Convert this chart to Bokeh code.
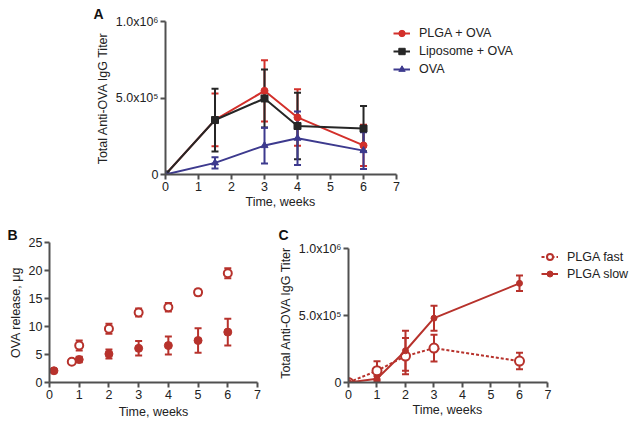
from bokeh.plotting import figure
from bokeh.layouts import column, row
from bokeh.models import ColumnDataSource, Whisker, TeeHead, FixedTicker, Title
from bokeh.embed import file_html
from bokeh.resources import INLINE

FONT = "Liberation Sans"
AX = "#505050"
TXT = "#222222"
RED_A = "#d3302b"
BLACK_A = "#262626"
BLUE_A = "#3d3a8e"
RED = "#b7322c"

# ---------------- data ----------------
# Panel A: total anti-OVA IgG titer
weeks_a = [0, 1.5, 3, 4, 6]
plga_ova = [0, 357000, 547000, 373000, 190000]
plga_ova_err = [0, 173000, 200000, 185000, 135000]
lipo_ova = [0, 356000, 497000, 317000, 300000]
lipo_ova_err = [0, 205000, 190000, 217000, 148000]
ova = [0, 76000, 189000, 237000, 156000]
ova_err = [0, 37000, 117000, 175000, 120000]

# Panel B: OVA release
weeks_b_fast = [0.75, 1, 2, 3, 4, 5, 6]
release_fast = [3.7, 6.6, 9.6, 12.5, 13.45, 16.1, 19.5]
release_fast_err = [0.4, 0.9, 0.9, 0.7, 0.75, 0.5, 0.9]
weeks_b_slow = [0.15, 1, 2, 3, 4, 5, 6]
release_slow = [2.1, 4.1, 5.1, 6.1, 6.6, 7.5, 9.0]
release_slow_err = [0.2, 0.5, 0.8, 1.3, 1.6, 2.2, 2.4]

# Panel C: titer for fast / slow PLGA
weeks_c = [0, 1, 2, 3, 6]
plga_fast = [0, 88000, 197000, 257000, 160000]
plga_fast_err = [0, 70000, 135000, 100000, 62000]
plga_slow = [0, 28000, 237000, 480000, 740000]
plga_slow_err = [0, 20000, 150000, 93000, 58000]

week_ticks = [0, 1, 2, 3, 4, 5, 6, 7]
titer_ticks = [0, 500000, 1000000]
titer_labels = ["0", "5.0x10\u2075", "1.0x10\u2076"]
release_ticks = [0, 5, 10, 15, 20, 25]
x_title = "Time, weeks"


def style(p, letter, offset):
    p.outline_line_color = None
    p.grid.visible = False
    p.title.text = letter
    p.title.align = "left"
    p.title.offset = offset
    p.title.standoff = 0
    p.title.text_font = FONT
    p.title.text_font_size = "14px"
    p.title.text_font_style = "bold"
    p.title.text_color = "#111111"
    for ax in p.axis:
        ax.axis_line_color = AX
        ax.axis_line_width = 2
        ax.major_tick_line_color = AX
        ax.major_tick_line_width = 2
        ax.major_tick_out = 5
        ax.major_tick_in = 0
        ax.minor_tick_line_color = None
        ax.major_label_text_font = FONT
        ax.major_label_text_font_size = "12.5px"
        ax.major_label_text_color = TXT
        ax.axis_label_text_font = FONT
        ax.axis_label_text_font_size = "12.5px"
        ax.axis_label_text_font_style = "normal"
        ax.axis_label_text_color = TXT
        ax.major_label_standoff = 2
        ax.axis_label_standoff = 3


def below_title(p, offset):
    # x-axis title centred under the 0-7 part of the axis
    p.add_layout(Title(text=x_title, align="left", offset=offset, standoff=2,
                       vertical_align="top", text_font=FONT, text_font_size="12.5px",
                       text_font_style="normal", text_color=TXT), "below")


def errbars(p, x, y, e, color, cap=7):
    xs, lo, hi = [], [], []
    for a, b, c in zip(x, y, e):
        if c > 0:
            xs.append(a)
            lo.append(b - c)
            hi.append(b + c)
    src = ColumnDataSource(dict(x=xs, lo=lo, hi=hi))
    w = Whisker(base="x", lower="lo", upper="hi", source=src,
                line_color=color, line_width=2,
                upper_head=TeeHead(size=cap, line_color=color, line_width=2),
                lower_head=TeeHead(size=cap, line_color=color, line_width=2))
    p.add_layout(w)


def titer_axis(p):
    p.yaxis.ticker = FixedTicker(ticks=titer_ticks)
    p.yaxis.major_label_overrides = {t: s for t, s in zip(titer_ticks, titer_labels)}
    p.yaxis.bounds = (0, 1000000)


def style_legend(p, loc, gh):
    lg = p.legend[0]
    lg.location = loc
    lg.label_text_font = FONT
    lg.label_text_font_size = "12.5px"
    lg.label_text_color = TXT
    lg.glyph_width = 17
    lg.glyph_height = gh
    lg.label_height = gh
    lg.spacing = 2
    lg.padding = 0
    lg.margin = 0
    lg.label_standoff = 9
    lg.border_line_color = None
    lg.background_fill_alpha = 0


# ---------------- Panel A ----------------
pa = figure(width=635, height=213, x_range=(0, 14.15), y_range=(0, 1000000),
            output_backend="svg", toolbar_location=None,
            min_border_left=165, min_border_right=3, min_border_top=21, min_border_bottom=39)
style(pa, "A", -72)
pa.xaxis.ticker = FixedTicker(ticks=week_ticks)
pa.xaxis.bounds = (0, 7)
pa.yaxis.axis_label = "Total Anti-OVA IgG Titer"
below_title(pa, 80)
titer_axis(pa)

errbars(pa, weeks_a, plga_ova, plga_ova_err, RED_A)
errbars(pa, weeks_a, lipo_ova, lipo_ova_err, BLACK_A)
errbars(pa, weeks_a, ova, ova_err, BLUE_A)
pa.line(weeks_a, plga_ova, line_color=RED_A, line_width=2, legend_label="PLGA + OVA")
pa.scatter(weeks_a, plga_ova, marker="circle", size=7, color=RED_A, legend_label="PLGA + OVA")
pa.line(weeks_a, lipo_ova, line_color=BLACK_A, line_width=2, legend_label="Liposome + OVA")
pa.scatter(weeks_a, lipo_ova, marker="square", size=7, color=BLACK_A, legend_label="Liposome + OVA")
pa.line(weeks_a, ova, line_color=BLUE_A, line_width=2, legend_label="OVA")
pa.scatter(weeks_a, ova, marker="triangle", size=7, color=BLUE_A, legend_label="OVA")
style_legend(pa, (228, 97), 16)

# ---------------- Panel B ----------------
pb = figure(width=272, height=208, x_range=(0, 7), y_range=(0, 25),
            output_backend="svg", toolbar_location=None,
            min_border_left=49, min_border_right=15, min_border_top=29, min_border_bottom=39)
style(pb, "B", -42)
pb.xaxis.ticker = FixedTicker(ticks=week_ticks)
pb.yaxis.ticker = FixedTicker(ticks=release_ticks)
pb.xaxis.axis_label = x_title
pb.yaxis.axis_label = "OVA release, \u03bcg"
errbars(pb, weeks_b_fast, release_fast, release_fast_err, RED)
errbars(pb, weeks_b_slow, release_slow, release_slow_err, RED)
pb.scatter(weeks_b_fast, release_fast, marker="circle", size=8, fill_color="white",
           line_color=RED, line_width=2)
pb.scatter(weeks_b_slow, release_slow, marker="circle", size=8, color=RED)

# ---------------- Panel C ----------------
pc = figure(width=363, height=208, x_range=(0, 9.965), y_range=(0, 1044800),
            output_backend="svg", toolbar_location=None,
            min_border_left=76, min_border_right=3, min_border_top=29, min_border_bottom=39)
style(pc, "C", -70)
pc.xaxis.ticker = FixedTicker(ticks=week_ticks)
pc.xaxis.bounds = (0, 7)
pc.yaxis.axis_label = "Total Anti-OVA IgG Titer"
below_title(pc, 64)
titer_axis(pc)
errbars(pc, weeks_c, plga_fast, plga_fast_err, RED)
errbars(pc, weeks_c, plga_slow, plga_slow_err, RED)
pc.line(weeks_c, plga_fast, line_color=RED, line_width=2, line_dash="3 2", legend_label="PLGA fast")
pc.scatter(weeks_c, plga_fast, marker="circle", size=9, fill_color="white",
           line_color=RED, line_width=2, legend_label="PLGA fast")
pc.line(weeks_c, plga_slow, line_color=RED, line_width=2, legend_label="PLGA slow")
pc.scatter(weeks_c, plga_slow, marker="circle", size=6, color=RED, legend_label="PLGA slow")
style_legend(pc, (193, 101), 15)

layout = column(pa, row(pb, pc))
open("out.html", "w").write(file_html(layout, INLINE))
